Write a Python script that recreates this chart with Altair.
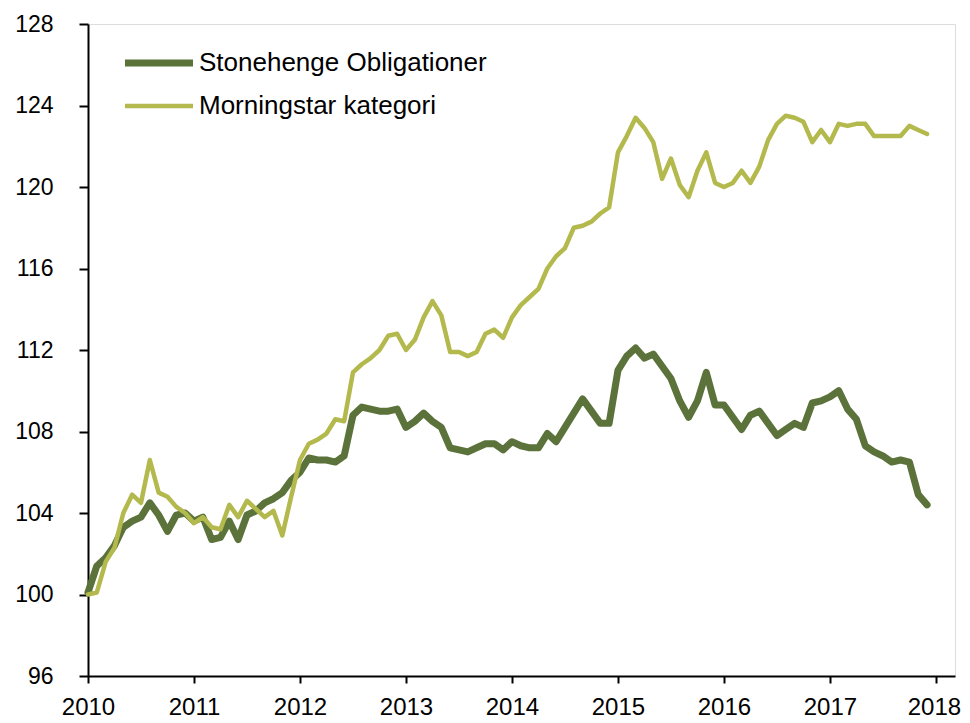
import altair as alt
import pandas as pd

# Monthly index values, Jan 2010 .. Dec 2017
years = [2010, 2011, 2012, 2013, 2014, 2015, 2016, 2017]
months = list(range(1, 13))

stonehenge = [
    100.1, 101.4, 101.8, 102.4, 103.3, 103.6, 103.8, 104.5, 103.9, 103.1, 103.9, 104.0,
    103.6, 103.8, 102.7, 102.8, 103.6, 102.7, 103.9, 104.1, 104.5, 104.7, 105.0, 105.6,
    106.0, 106.7, 106.6, 106.6, 106.5, 106.8, 108.8, 109.2, 109.1, 109.0, 109.0, 109.1,
    108.2, 108.5, 108.9, 108.5, 108.2, 107.2, 107.1, 107.0, 107.2, 107.4, 107.4, 107.1,
    107.5, 107.3, 107.2, 107.2, 107.9, 107.5, 108.2, 108.9, 109.6, 109.0, 108.4, 108.4,
    111.0, 111.7, 112.1, 111.6, 111.8, 111.2, 110.6, 109.5, 108.7, 109.5, 110.9, 109.3,
    109.3, 108.7, 108.1, 108.8, 109.0, 108.4, 107.8, 108.1, 108.4, 108.2, 109.4, 109.5,
    109.7, 110.0, 109.1, 108.6, 107.3, 107.0, 106.8, 106.5, 106.6, 106.5, 104.9, 104.4,
]

morningstar = [
    100.0, 100.1, 101.6, 102.3, 104.0, 104.9, 104.5, 106.6, 105.0, 104.8, 104.3, 104.0,
    103.5, 103.8, 103.3, 103.2, 104.4, 103.8, 104.6, 104.2, 103.8, 104.1, 102.9, 104.8,
    106.6, 107.4, 107.6, 107.9, 108.6, 108.5, 110.9, 111.3, 111.6, 112.0, 112.7, 112.8,
    112.0, 112.5, 113.6, 114.4, 113.7, 111.9, 111.9, 111.7, 111.9, 112.8, 113.0, 112.6,
    113.6, 114.2, 114.6, 115.0, 116.0, 116.6, 117.0, 118.0, 118.1, 118.3, 118.7, 119.0,
    121.7, 122.5, 123.4, 122.9, 122.2, 120.4, 121.4, 120.1, 119.5, 120.8, 121.7, 120.2,
    120.0, 120.2, 120.8, 120.2, 121.0, 122.3, 123.1, 123.5, 123.4, 123.2, 122.2, 122.8,
    122.2, 123.1, 123.0, 123.1, 123.1, 122.5, 122.5, 122.5, 122.5, 123.0, 122.8, 122.6,
]

series_names = ["Stonehenge Obligationer", "Morningstar kategori"]
series_colors = ["#5B723B", "#B3B94C"]
series_widths = [7, 4.5]

x_ticks = [2010, 2011, 2012, 2013, 2014, 2015, 2016, 2017, 2018]
y_ticks = [96, 100, 104, 108, 112, 116, 120, 124, 128]

rows = []
for name, vals in zip(series_names, [stonehenge, morningstar]):
    k = 0
    for yr in years:
        for m in months:
            rows.append({"series": name, "t": yr + (m - 1) / 12, "value": vals[k]})
            k += 1
df = pd.DataFrame(rows)

FONT = "Liberation Sans"

leg = alt.Legend(
    title=None,
    orient="none",
    legendX=56,
    legendY=24,
    padding=0,
    symbolType="M-3,0H3",
    symbolSize=514,
    labelFont=FONT,
    labelFontSize=26,
    labelColor="black",
    labelOffset=25,
    labelLimit=500,
    rowPadding=15,
)

chart = alt.Chart(df).mark_line(strokeJoin="round", strokeCap="round").encode(
    x=alt.X(
        "t:Q",
        scale=alt.Scale(domain=[2010, 2018.18], nice=False, zero=False),
        axis=alt.Axis(
            values=x_ticks, format="d", title=None, labelFlush=False,
            tickSize=7, labelPadding=12, labelFontSize=24, labelFont=FONT,
            labelColor="black", grid=False, domainColor="black", domainWidth=2,
            tickColor="black", tickWidth=2, labelOverlap=False,
            labelOffset={"condition": {"test": "datum.value >= 2018", "value": -2}, "value": 0},
        ),
    ),
    y=alt.Y(
        "value:Q",
        scale=alt.Scale(domain=[96, 128], nice=False, zero=False),
        axis=alt.Axis(
            values=y_ticks, title=None, labelFlush=False,
            tickSize=9, labelPadding=26, labelFontSize=23, labelFont=FONT,
            labelColor="black", grid=False, domainColor="black", domainWidth=2,
            tickColor="black", tickWidth=2, labelOverlap=False,
        ),
    ),
    color=alt.Color(
        "series:N",
        scale=alt.Scale(domain=series_names, range=series_colors),
        legend=leg,
    ),
    strokeWidth=alt.StrokeWidth(
        "series:N",
        scale=alt.Scale(type="ordinal", domain=series_names, range=series_widths),
        legend=leg,
    ),
).properties(
    width=867,
    height=652,
    autosize="none",
    padding={"left": 80, "top": 16, "right": 7, "bottom": 50},
).configure_view(
    stroke="black", strokeWidth=1.5
).configure(background="white")

chart.save("out.html", embed_options={"renderer": "svg", "actions": False})
